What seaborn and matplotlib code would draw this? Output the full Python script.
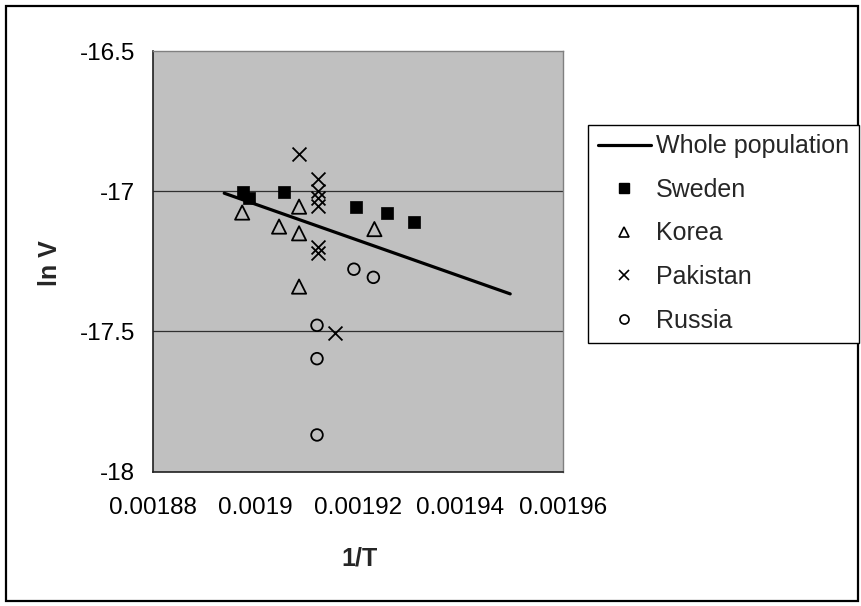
import matplotlib
matplotlib.use("Agg")
import matplotlib.pyplot as plt
import seaborn as sns
import numpy as np
from matplotlib.lines import Line2D
from matplotlib.patches import Rectangle

# ---- data ----
sweden_x = [0.0018976, 0.0018987, 0.0019056, 0.0019196, 0.0019257, 0.0019310]
sweden_y = [-17.004, -17.025, -17.004, -17.057, -17.079, -17.109]

korea_x = [0.0018974, 0.0019046, 0.0019085, 0.0019085, 0.0019232, 0.0019085]
korea_y = [-17.076, -17.126, -17.055, -17.150, -17.135, -17.340]

pakistan_x = [0.0019085, 0.0019121, 0.0019121, 0.0019121, 0.0019121, 0.0019121, 0.0019121, 0.0019156]
pakistan_y = [-16.868, -16.958, -16.999, -17.024, -17.051, -17.198, -17.221, -17.506]

russia_x = [0.0019192, 0.0019230, 0.0019120, 0.0019120, 0.0019120]
russia_y = [-17.278, -17.307, -17.478, -17.597, -17.869]

trend_x = [0.0018939, 0.0019497]
trend_y = [-17.007, -17.366]

x_ticks = [0.00188, 0.0019, 0.00192, 0.00194, 0.00196]
x_tick_labels = ["0.00188", "0.0019", "0.00192", "0.00194", "0.00196"]
y_ticks = [-18, -17.5, -17, -16.5]
y_tick_labels = ["-18", "-17.5", "-17", "-16.5"]

# ---- style ----
sns.set_style("white")
plt.rcParams["font.family"] = ["Liberation Sans", "DejaVu Sans"]

W, H = 862, 606
fig = plt.figure(figsize=(W / 100, H / 100), dpi=100)
ax = fig.add_axes([153 / W, 1 - 471.7 / H, (563 - 153) / W, (471.7 - 51) / H])
ax.set_facecolor("#C0C0C0")

# gridlines
for yv in [-17.5, -17]:
    ax.axhline(yv, color="#303030", linewidth=0.9, zorder=0.5)

sns.lineplot(x=trend_x, y=trend_y, ax=ax, color="black", linewidth=2.3, zorder=2)
sns.scatterplot(x=sweden_x, y=sweden_y, ax=ax, marker="s", s=75, color="black",
                edgecolor="black", linewidth=0.5, zorder=3)
sns.scatterplot(x=korea_x, y=korea_y, ax=ax, marker="^", s=105, color="black",
                facecolor="none", edgecolor="black", linewidth=1.3, zorder=3)
sns.scatterplot(x=pakistan_x, y=pakistan_y, ax=ax, marker="x", s=100, color="black",
                linewidth=1.3, zorder=3)
sns.scatterplot(x=russia_x, y=russia_y, ax=ax, marker="o", s=70, color="black",
                facecolor="none", edgecolor="black", linewidth=1.3, zorder=3)

ax.set_xlim(0.00188, 0.00196)
ax.set_ylim(-18, -16.5)
ax.set_xticks(x_ticks)
ax.set_xticklabels(x_tick_labels)
ax.set_yticks(y_ticks)
ax.set_yticklabels(y_tick_labels)
ax.tick_params(axis="both", direction="out", length=5, width=1, color="black",
               labelsize=17.5, labelcolor="black")
ax.tick_params(axis="x", pad=13)
ax.tick_params(axis="y", pad=8)

for side in ["left", "bottom"]:
    ax.spines[side].set_color("#202020")
    ax.spines[side].set_linewidth(1.2)
for side in ["top", "right"]:
    ax.spines[side].set_color("#808080")
    ax.spines[side].set_linewidth(1.0)

ax.set_xlabel("")
ax.set_ylabel("")
fig.text(360 / W, 1 - 558 / H, "1/T", ha="center", va="center",
         fontsize=18, fontweight="bold")
fig.text(50 / W, 1 - 263 / H, "ln V", ha="center", va="center",
         fontsize=18, fontweight="bold", rotation=90)

handles = [
    Line2D([], [], color="black", linewidth=2.3),
    Line2D([], [], color="black", marker="s", linestyle="none", markersize=7),
    Line2D([], [], color="black", marker="^", linestyle="none", markersize=7.5,
           markerfacecolor="none", markeredgewidth=1.2),
    Line2D([], [], color="black", marker="x", linestyle="none", markersize=7.5,
           markeredgewidth=1.2),
    Line2D([], [], color="black", marker="o", linestyle="none", markersize=6.5,
           markerfacecolor="none", markeredgewidth=1.2),
]
labels = ["Whole population", "Sweden", "Korea", "Pakistan", "Russia"]
leg = fig.legend(handles, labels, loc="upper left",
                 bbox_to_anchor=(588 / W, 1 - 124.5 / H),
                 bbox_transform=fig.transFigure,
                 fontsize=18, frameon=True, fancybox=False, shadow=False,
                 borderaxespad=0, borderpad=0.4, handlelength=2.1,
                 handletextpad=0.2, labelspacing=0.78)
leg.get_frame().set_edgecolor("black")
leg.get_frame().set_linewidth(1.0)
leg.get_frame().set_facecolor("white")
leg.get_frame().set_alpha(1)

# figure border
fig.patches.append(Rectangle((6 / W, 5 / H), (852 / W), (595 / H),
                             transform=fig.transFigure, fill=False,
                             edgecolor="black", linewidth=1.6))

fig.savefig("out.png", dpi=100)
